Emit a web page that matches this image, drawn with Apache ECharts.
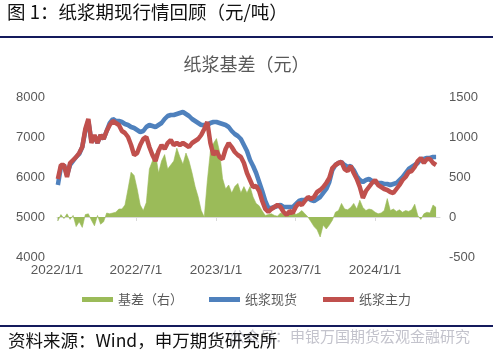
<!DOCTYPE html>
<html><head><meta charset="utf-8">
<script src="https://cdn.jsdelivr.net/npm/echarts@6/dist/echarts.min.js"></script>
<style>html,body{margin:0;padding:0;background:#fff}#c{width:493px;height:358px}</style>
</head><body><div id="c"></div>
<script>
// weekly observations starting 2022-01-03
const startDate = [2022, 0, 3];
const weekStep = 7;
const spot = [5800,6250,6300,6050,6300,6400,6500,6575,6750,7150,7400,6900,7000,6850,7050,6950,7150,7350,7450,7400,
7400,7375,7325,7300,7250,7225,7175,7125,7150,7250,7300,7275,7250,7300,7350,7450,7525,7550,7550,7575,
7600,7625,7575,7525,7450,7400,7350,7300,7300,7300,7350,7375,7375,7350,7325,7300,7250,7150,7075,7025,
6950,6800,6650,6425,6275,6100,5875,5650,5400,5225,5225,5250,5275,5300,5250,5250,5250,5250,5325,5400,
5425,5425,5475,5425,5400,5450,5500,5600,5700,5875,6175,6300,6350,6375,6300,6250,6275,6175,6025,5925,
5875,5925,5950,5900,5875,5850,5850,5825,5825,5800,5825,5850,5925,6000,6100,6200,6250,6300,6350,6450,
6450,6475,6475,6500,6500];
const futures = [5950,6300,6300,6000,6350,6425,6500,6600,6750,7200,7450,6850,7050,6850,7050,6950,7150,7300,7400,7350,
7300,7150,7100,7000,6800,6550,6600,6800,6950,7000,6750,6550,6400,6650,6800,6700,6850,6925,6800,6850,
6800,6850,6800,6750,6850,6900,6950,7050,7200,7375,6850,6550,6650,6500,6450,6700,6850,6750,6625,6550,
6500,6350,6100,5925,5750,5775,5650,5400,5200,5125,5200,5250,5300,5250,5125,5050,5150,5100,5250,5350,
5300,5400,5500,5450,5500,5625,5675,5750,5850,5975,6225,6300,6350,6375,6200,6150,6275,6100,5950,5750,
5475,5650,5750,5850,5925,5800,5750,5700,5675,5625,5600,5700,5800,5925,6000,6125,6150,6250,6400,6475,
6350,6450,6450,6350,6300];
const basis = [-50,30,-20,40,-30,20,-120,-60,-130,30,40,-40,-110,20,-90,-60,50,40,50,60,
100,100,150,350,560,520,350,150,80,180,600,700,800,550,700,780,600,650,700,860,
750,660,800,700,550,380,250,80,0,450,820,920,980,820,480,350,400,300,380,420,
300,380,300,380,250,170,140,75,20,30,40,20,10,50,30,60,40,80,30,50,
80,40,0,-60,-120,-160,-250,-100,-150,-100,-40,60,80,170,100,90,120,170,100,210,
120,80,100,90,60,40,50,80,230,80,100,70,90,60,80,70,90,160,20,-30,
40,60,50,150,120];
const xTickDates = [[2022,0,1],[2022,6,1],[2023,0,1],[2023,6,1],[2024,0,1]];
const leftTicks = {min: 4000, max: 8000, interval: 1000};
const rightTicks = {min: -500, max: 1500, interval: 500};
const seriesNames = ['基差（右）', '纸浆现货', '纸浆主力'];

const dates = spot.map((_, i) => new Date(startDate[0], startDate[1], startDate[2] + weekStep * i).getTime());
const pair = arr => arr.map((v, i) => [dates[i], v]);
const tickTs = xTickDates.map(d => new Date(d[0], d[1], d[2]).getTime());

const chart = echarts.init(document.getElementById('c'), null, {renderer: 'canvas'});
const grey = '#595959';
const ff = '"Liberation Sans", Arial, "Noto Sans CJK SC", sans-serif';
const cjk = '"Noto Sans CJK SC", sans-serif';
chart.setOption({
  animation: false,
  backgroundColor: '#fff',
  title: {
    text: '纸浆基差（元）', left: 'center', top: 50,
    textStyle: {fontSize: 18, fontWeight: 'normal', color: grey, fontFamily: cjk}
  },
  legend: {
    data: seriesNames, bottom: 47, left: 'center', icon: 'rect',
    itemWidth: 31, itemHeight: 5, itemGap: 26,
    textStyle: {fontSize: 13, color: grey, fontFamily: cjk}
  },
  grid: {left: 57, right: 53, top: 97, bottom: 101},
  xAxis: {
    type: 'value',
    min: new Date(2022, 0, 1).getTime(),
    max: new Date(2024, 4, 29).getTime(),
    axisLine: {lineStyle: {color: '#d9d9d9'}},
    axisTick: {show: true, customValues: tickTs, length: 4, lineStyle: {color: '#d9d9d9'}},
    splitLine: {show: false},
    axisLabel: {
      customValues: tickTs, color: grey, fontSize: 13.5, fontFamily: ff, margin: 7,
      formatter: v => { const d = new Date(v); return d.getFullYear() + '/' + (d.getMonth() + 1) + '/' + d.getDate(); }
    }
  },
  yAxis: [
    {type: 'value', min: leftTicks.min, max: leftTicks.max, interval: leftTicks.interval,
     axisLine: {show: false}, axisTick: {show: false}, splitLine: {show: false},
     axisLabel: {color: grey, fontSize: 13, fontFamily: ff, margin: 12, formatter: v => String(v)}},
    {type: 'value', min: rightTicks.min, max: rightTicks.max, interval: rightTicks.interval,
     axisLine: {show: false}, axisTick: {show: false}, splitLine: {show: false},
     axisLabel: {color: grey, fontSize: 13, fontFamily: ff, margin: 9, formatter: v => String(v)}}
  ],
  series: [
    {name: seriesNames[0], type: 'line', yAxisIndex: 1, data: pair(basis), showSymbol: false,
     color: '#9bbb59', lineStyle: {width: 0.6, color: '#9bbb59'}, areaStyle: {color: '#9bbb59', opacity: 1}},
    {name: seriesNames[1], type: 'line', data: pair(spot), showSymbol: false,
     color: '#4f81bd', lineStyle: {width: 4.5, color: '#4f81bd'}},
    {name: seriesNames[2], type: 'line', data: pair(futures), showSymbol: false,
     color: '#c0504d', lineStyle: {width: 4.5, color: '#c0504d'}}
  ],
  graphic: [
    {type: 'text', left: 7, top: 3, style: {text: '图 1：纸浆期现行情回顾（元/吨）', font: '18.5px ' + cjk, fill: '#111'}},
    {type: 'rect', shape: {x: 0, y: 36, width: 493, height: 2}, style: {fill: '#141a5c'}},
    {type: 'rect', shape: {x: 0, y: 325, width: 493, height: 2}, style: {fill: '#141a5c'}},
    {type: 'text', left: 230, top: 329, style: {text: '公众号：申银万国期货宏观金融研究', font: '15px ' + cjk, fill: '#c3c3cc'}},
    {type: 'text', left: 8, top: 332, style: {text: '资料来源：Wind，申万期货研究所', font: '17.5px ' + cjk, fill: '#111'}}
  ]
});
</script></body></html>
